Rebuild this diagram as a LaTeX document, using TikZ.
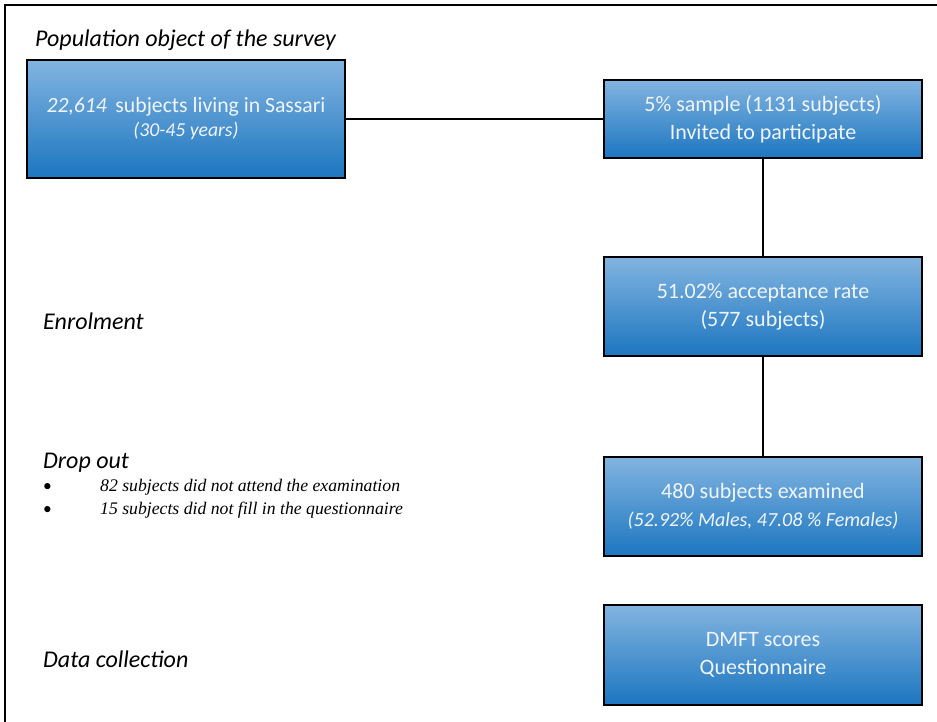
\documentclass[tikz,border=0pt]{standalone}
\usepackage{fontspec}
\setmainfont{Carlito}
\newfontfamily\timesit{Liberation Serif}
\definecolor{boxtop}{RGB}{130,180,224}
\definecolor{boxbot}{RGB}{28,118,192}
\definecolor{boxtxt}{RGB}{240,245,252}
\begin{document}
\begin{tikzpicture}[x=1pt,y=-1pt,
  flowbox/.style={draw=black,line width=1.4pt,top color=boxtop,bottom color=boxbot,
    text=boxtxt,align=center,inner sep=0pt,font=\fontsize{22}{28}\selectfont},
  phase/.style={anchor=base west,inner sep=0pt,font=\fontsize{24}{28}\selectfont\itshape},
  bul/.style={anchor=base west,inner sep=0pt,font=\fontsize{17.5}{20}\selectfont},
  drop/.style={anchor=base west,inner sep=0pt,font=\fontsize{17.7}{20}\selectfont\timesit\itshape},
  link/.style={line width=1.4pt}]
\useasboundingbox (0,0) rectangle (937,722);
\draw[line width=2pt] (5,722) -- (5,5) -- (937,5);
% phase labels
\node[phase] (lpop) at (35,47) {Population object of the survey};
\node[phase] (lenr) at (43,329) {Enrolment};
\node[phase] (ldrop) at (43,468) {Drop out};
\node[phase] (ldata) at (43,667) {Data collection};
\node[bul] (b1) at (43,491) {\textbullet};
\node[bul] (b2) at (43,514) {\textbullet};
\node[drop] (d1) at (100,491) {82 subjects did not attend the examination};
\node[drop] (d2) at (100,514) {15 subjects did not fill in the questionnaire};
% boxes
\node[flowbox,minimum width=318,minimum height=118,font=\fontsize{21.7}{24}\selectfont] (pop) at (186,119)
  {\textit{22,614}\, subjects living in Sassari\\{\fontsize{19.7}{24}\selectfont\itshape (30-45 years)}};
\node[flowbox,minimum width=318,minimum height=78] (samp) at (763,119)
  {5\% sample (1131 subjects)\\Invited to participate};
\node[flowbox,minimum width=318,minimum height=99] (acc) at (763,306.5)
  {51.02\% acceptance rate\\(577 subjects)};
\node[flowbox,minimum width=318,minimum height=99] (exam) at (763,506.5)
  {480 subjects examined\\{\fontsize{20}{28}\selectfont\itshape (52.92\% Males, 47.08 \% Females)}};
\node[flowbox,minimum width=318,minimum height=100] (data) at (763,655)
  {DMFT scores\\Questionnaire};
% connectors
\draw[link] (pop.east) -- (samp.west);
\draw[link] (samp.south) -- (acc.north);
\draw[link] (acc.south) -- (exam.north);
\end{tikzpicture}
\end{document}
